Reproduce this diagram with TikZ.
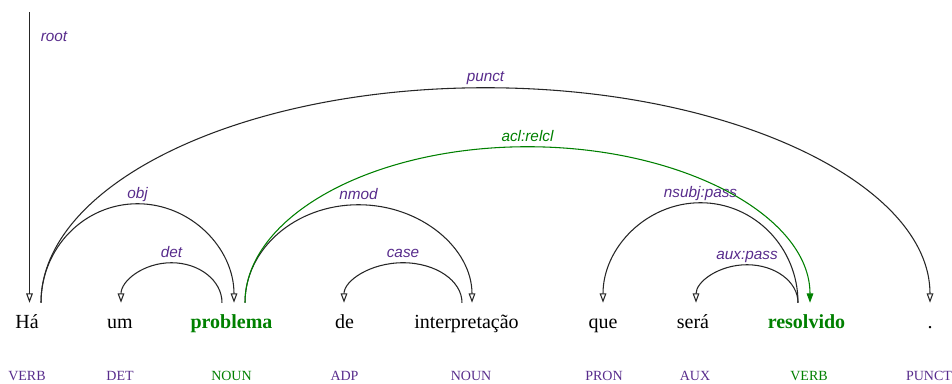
\documentclass[tikz,border=0pt]{standalone}
\usepackage{fontspec}
\setmainfont{Liberation Serif}
\newfontfamily\labelfont{Liberation Sans}
\usetikzlibrary{arrows.meta, calc}

\definecolor{relpurple}{RGB}{88,44,140}
\definecolor{headgreen}{RGB}{0,128,0}

\tikzset{
  word/.style={anchor=base, inner sep=0pt, text height=18.75pt, font=\fontsize{15}{18}\selectfont},
  headword/.style={word, text=headgreen, font=\fontsize{15}{18}\selectfont\bfseries},
  tag/.style={anchor=base, inner sep=0pt, text=relpurple, font=\fontsize{10.5}{12}\selectfont},
  headtag/.style={tag, text=headgreen},
  rel/.style={anchor=base, inner sep=0pt, text=relpurple, font=\labelfont\itshape\fontsize{11.5}{13}\selectfont},
  dep/.style={draw=black!85, line width=0.8pt, -{Triangle[open, length=7pt, width=5pt]}},
  greendep/.style={draw=headgreen, line width=0.8pt, -{Triangle[length=7pt, width=5pt]}},
}

\begin{document}
\begin{tikzpicture}[x=0.75pt, y=0.75pt]
    \useasboundingbox (0,0) rectangle (952,383);

    % Sentence
    \node[word] (ha) at (27,55) {Há};
    \node[word] (um) at (120,55) {um};
    \node[headword] (problema) at (231.5,55) {problema};
    \node[word] (de) at (344.5,55) {de};
    \node[word] (interp) at (466.5,55) {interpretação};
    \node[word] (que) at (603,55) {que};
    \node[word] (sera) at (693,55) {será};
    \node[headword] (resolvido) at (806.5,55) {resolvido};
    \node[word] (dot) at (930,55) {.};

    % Part-of-speech tags
    \node[tag] (t-ha) at (27,2.5) {VERB};
    \node[tag] (t-um) at (120,2.5) {DET};
    \node[headtag] (t-problema) at (231.5,2.5) {NOUN};
    \node[tag] (t-de) at (344.5,2.5) {ADP};
    \node[tag] (t-interp) at (471,2.5) {NOUN};
    \node[tag] (t-que) at (604,2.5) {PRON};
    \node[tag] (t-sera) at (695,2.5) {AUX};
    \node[headtag] (t-resolvido) at (809,2.5) {VERB};
    \node[tag] (t-dot) at (929,2.5) {PUNCT};

    % Root
    \coordinate (roottop) at (29.5,371);
    \draw[dep] (roottop) -- ($(ha.north)+(2.5,0)$);
    \node[rel] (l-root) at (54,341) {root};

    % Short arcs
    \draw[dep] ($(problema.north)+(-9.5,0)$) arc[start angle=0, end angle=180, x radius=50.5, y radius=40];
    \node[rel] (l-det) at (171.5,126) {det};
    \draw[dep] ($(interp.north)+(-4.5,0)$) arc[start angle=0, end angle=180, x radius=59, y radius=40];
    \node[rel] (l-case) at (403,126) {case};
    \draw[dep] ($(resolvido.north)+(-8.5,0)$) arc[start angle=0, end angle=180, x radius=51, y radius=38];
    \node[rel] (l-aux) at (747,124) {aux:pass};

    % Middle arcs
    \draw[dep] ($(ha.north)+(14,0)$) arc[start angle=180, end angle=0, x radius=96.5, y radius=99];
    \node[rel] (l-obj) at (137.5,185) {obj};
    \draw[dep] ($(problema.north)+(13.5,0)$) arc[start angle=180, end angle=0, x radius=113.5, y radius=98];
    \node[rel] (l-nmod) at (358.5,184) {nmod};
    \draw[dep] ($(resolvido.north)+(-8.5,0)$) arc[start angle=0, end angle=180, x radius=97.5, y radius=100];
    \node[rel] (l-nsubj) at (700.5,186) {nsubj:pass};

    % Long arcs
    \draw[dep] ($(ha.north)+(14,0)$) arc[start angle=180, end angle=0, x radius=444.5, y radius=215];
    \node[rel] (l-punct) at (485.5,301) {punct};
    \draw[greendep] ($(problema.north)+(13.5,0)$) arc[start angle=180, end angle=0, x radius=282.5, y radius=156];
    \node[rel, text=headgreen] (l-acl) at (527.5,242) {acl:relcl};
\end{tikzpicture}
\end{document}
